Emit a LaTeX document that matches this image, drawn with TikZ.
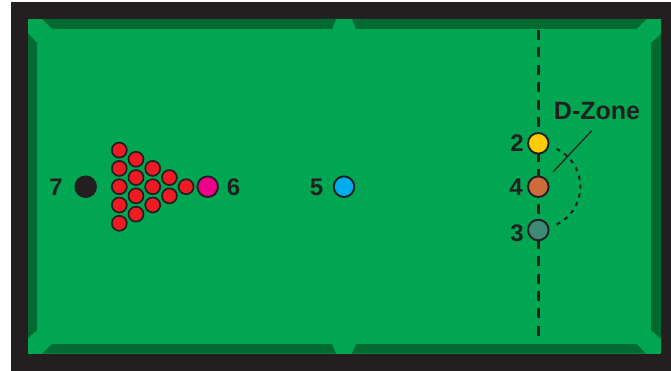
\documentclass[tikz,border=0pt]{standalone}
\usepackage{fontspec}
\setmainfont{Liberation Sans}
\definecolor{frame}{HTML}{231F20}
\definecolor{felt}{HTML}{00A651}
\definecolor{cushion}{HTML}{006A30}
\definecolor{redball}{HTML}{ED1C24}
\definecolor{pinkball}{HTML}{EC008C}
\definecolor{blueball}{HTML}{00AEEF}
\definecolor{yellowball}{HTML}{FFCC05}
\definecolor{brownball}{HTML}{CC6C3C}
\definecolor{greenball}{HTML}{3D8A76}
\tikzset{
  ball/.style={circle, draw=frame, line width=1.9pt, minimum size=20.6pt, inner sep=0pt},
  redb/.style={circle, draw=frame, line width=1.7pt, fill=redball, minimum size=15pt, inner sep=0pt},
  num/.style={font=\fontsize{24}{24}\selectfont\bfseries, text=frame, inner sep=0pt},
  lbl/.style={font=\fontsize{25}{25}\selectfont\bfseries, text=frame, inner sep=0pt},
  cush/.style={fill=cushion},
  baulk/.style={draw=frame, line width=2.4pt, dash pattern=on 10pt off 7.4pt},
  dline/.style={draw=frame, line width=2pt, dash pattern=on 4pt off 5pt},
  pointer/.style={draw=frame, line width=1.2pt}
}
\begin{document}
\begin{tikzpicture}[x=1pt,y=-1pt]
\useasboundingbox (0,0) rectangle (671,371);
\fill[white] (0,0) rectangle (671,371);
\fill[frame] (11,2.5) rectangle (671,371);
\fill[felt] (28,19) rectangle (661,353.7);
% cushions
\fill[cush] (42,19) -- (336,19) -- (332,29) -- (52,29) -- cycle;
\fill[cush] (352,19) -- (646.7,19) -- (636.7,29) -- (356,29) -- cycle;
\fill[cush] (52,344) -- (332,344) -- (336,353.7) -- (42,353.7) -- cycle;
\fill[cush] (356,344) -- (636.7,344) -- (646,353.7) -- (352,353.7) -- cycle;
\fill[cush] (28,33) -- (37,43) -- (37,330) -- (28,338) -- cycle;
\fill[cush] (661,34) -- (651,43) -- (651,330) -- (661,339) -- cycle;
% baulk line and D
\coordinate (btop) at (538.3,30);
\coordinate (bbot) at (538.3,343);
\draw[baulk] (btop) -- (bbot);
\coordinate (dc) at (538.3,186.7);
\draw[dline] ([shift={(64:42)}]dc) arc[start angle=64, end angle=-64, radius=42];
% pointer
\node[lbl] (dz) at (597,111.5) {D-Zone};
\coordinate (pA) at (591.7,130.7);
\coordinate (pB) at (553.3,171.7);
\draw[pointer] (pA) -- (pB);
% balls
\node[ball, fill=frame] (b7) at (85.7,186.7) {};
\node[ball, fill=pinkball] (b6) at (207.7,186.7) {};
\node[ball, fill=blueball] (b5) at (344,186.7) {};
\node[ball, fill=yellowball] (b2) at (538.3,143.3) {};
\node[ball, fill=brownball] (b4) at (538.3,186.7) {};
\node[ball, fill=greenball] (b3) at (538.3,230) {};
% reds
\foreach \c/\ks in {0/{-4,-2,0,2,4}, 1/{-3,-1,1,3}, 2/{-2,0,2}, 3/{-1,1}, 4/{0}}{
  \foreach \k in \ks {
    \node[redb] (r\c\k) at ({119.3+16.7*\c},{186.7+9.15*\k}) {};
  }
}
% labels
\node[num] (l7) at (56,187) {7};
\node[num] (l6) at (233.5,187) {6};
\node[num] (l5) at (316.5,187) {5};
\node[num] (l2) at (517,143.5) {2};
\node[num] (l4) at (516,187.5) {4};
\node[num] (l3) at (517,233) {3};
\end{tikzpicture}
\end{document}
